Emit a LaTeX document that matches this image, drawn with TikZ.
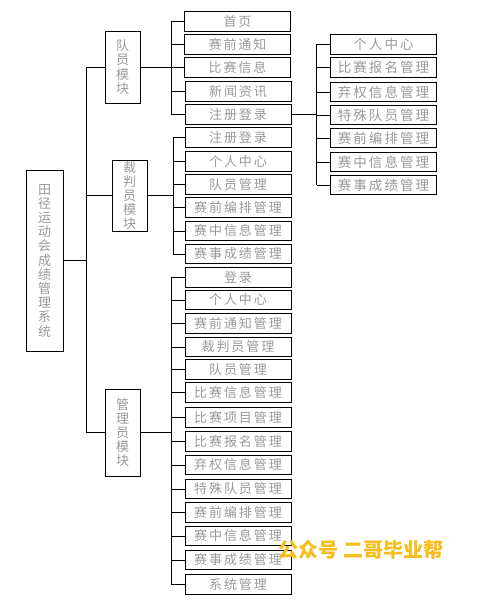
\documentclass[tikz,border=0pt]{standalone}
\usepackage{fontspec}
\newfontfamily\cjk[LetterSpace=15]{Noto Sans CJK SC}
\newfontfamily\cjkv{Noto Sans CJK SC}
\definecolor{txt}{HTML}{999999}
\definecolor{wmc}{HTML}{F7BE1B}
\begin{document}
\begin{tikzpicture}[x=1pt,y=-1pt,line width=0.9pt,
  leaf/.style={draw, minimum width=106pt, minimum height=19.5pt, inner sep=0pt,
    text=txt, font=\cjk\fontsize{13}{14}\selectfont},
  rleaf/.style={leaf, font=\cjk\fontsize{13.5}{14}\selectfont},
  modbox/.style={draw, align=center, inner sep=0pt, minimum width=35pt,
    text=txt, font=\cjkv\fontsize{13}{14.2}\selectfont},
  wire/.style={draw=black, line width=0.9pt}]
\useasboundingbox (0,0) rectangle (478,607);

% root and modules
\node[modbox, minimum width=37pt, minimum height=181pt] (root) at (44.5,260.5)
  {田\\径\\运\\动\\会\\成\\绩\\管\\理\\系\\统};
\node[modbox, minimum height=72pt] (m1) at (122.5,67) {队\\员\\模\\块};
\node[modbox, minimum height=71pt] (m2) at (129.5,195.5) {裁\\判\\员\\模\\块};
\node[modbox, minimum height=87pt] (m3) at (122.5,432.5) {管\\理\\员\\模\\块};

% module 1 leaves
\node[leaf] (a1) at (237.5,21.5) {首页};
\node[leaf] (a2) at (237.5,44.5) {赛前通知};
\node[leaf] (a3) at (237.5,67.5) {比赛信息};
\node[leaf] (a4) at (238,91.5) {新闻资讯};
\node[leaf] (a5) at (238,114.5) {注册登录};

% module 2 leaves
\node[leaf] (b1) at (238,137.5) {注册登录};
\node[leaf] (b2) at (238,161.5) {个人中心};
\node[leaf] (b3) at (238,184.5) {队员管理};
\node[leaf] (b4) at (238,207.5) {赛前编排管理};
\node[leaf] (b5) at (238,231) {赛中信息管理};
\node[leaf] (b6) at (238,254) {赛事成绩管理};

% module 3 leaves
\node[leaf] (c1) at (238,277.5) {登录};
\node[leaf] (c2) at (238,300) {个人中心};
\node[leaf] (c3) at (238,323.5) {赛前通知管理};
\node[leaf] (c4) at (238,347) {裁判员管理};
\node[leaf] (c5) at (238,369.5) {队员管理};
\node[leaf] (c6) at (238,392.5) {比赛信息管理};
\node[leaf] (c7) at (238,417.5) {比赛项目管理};
\node[leaf] (c8) at (238,441.5) {比赛报名管理};
\node[leaf] (c9) at (238,465) {弃权信息管理};
\node[leaf] (c10) at (238,489) {特殊队员管理};
\node[leaf] (c11) at (238,512.5) {赛前编排管理};
\node[leaf] (c12) at (238,536) {赛中信息管理};
\node[leaf] (c13) at (238,560) {赛事成绩管理};
\node[leaf] (c14) at (238,584.5) {系统管理};

% right group (after 注册登录)
\node[rleaf] (r1) at (383.5,44.5) {个人中心};
\node[rleaf] (r2) at (383.5,67.5) {比赛报名管理};
\node[rleaf] (r3) at (383.5,92) {弃权信息管理};
\node[rleaf] (r4) at (383.5,115) {特殊队员管理};
\node[rleaf] (r5) at (383.5,138) {赛前编排管理};
\node[rleaf] (r6) at (383.5,162) {赛中信息管理};
\node[rleaf] (r7) at (383.5,185) {赛事成绩管理};

% bus coordinates
\coordinate (t) at (86,0);
\coordinate (k1) at (171,0);
\coordinate (k2) at (173,0);
\coordinate (k3) at (171,0);
\coordinate (k4) at (316.5,0);

% trunk
\draw[wire] (root.east) -- (root.east -| t);
\draw[wire] (t |- m1.west) -- (t |- m3.west);
\foreach \m in {m1,m2,m3} \draw[wire] (t |- \m.west) -- (\m.west);

% module 1
\draw[wire] (m1.east) -- (m1.east -| k1);
\draw[wire] (k1 |- a1.west) -- (k1 |- a5.west);
\foreach \n in {a1,a2,a3,a4,a5} \draw[wire] (k1 |- \n.west) -- (\n.west);

% module 2
\draw[wire] (m2.east) -- (m2.east -| k2);
\draw[wire] (k2 |- b1.west) -- (k2 |- b6.west);
\foreach \n in {b1,b2,b3,b4,b5,b6} \draw[wire] (k2 |- \n.west) -- (\n.west);

% module 3
\draw[wire] (m3.east) -- (m3.east -| k3);
\draw[wire] (k3 |- c1.west) -- (k3 |- c14.west);
\foreach \n in {c1,c2,c3,c4,c5,c6,c7,c8,c9,c10,c11,c12,c13,c14} \draw[wire] (k3 |- \n.west) -- (\n.west);

% right group
\draw[wire] (a5.east) -- (a5.east -| k4);
\draw[wire] (k4 |- r1.west) -- (k4 |- r7.west);
\foreach \n in {r1,r2,r3,r4,r5,r6,r7} \draw[wire] (k4 |- \n.west) -- (\n.west);

% watermark
\node[text=wmc, font=\cjkv\bfseries\fontsize{20}{21}\selectfont, inner sep=0pt] (wm) at (361,550) {公众号 二哥毕业帮};
\end{tikzpicture}
\end{document}
